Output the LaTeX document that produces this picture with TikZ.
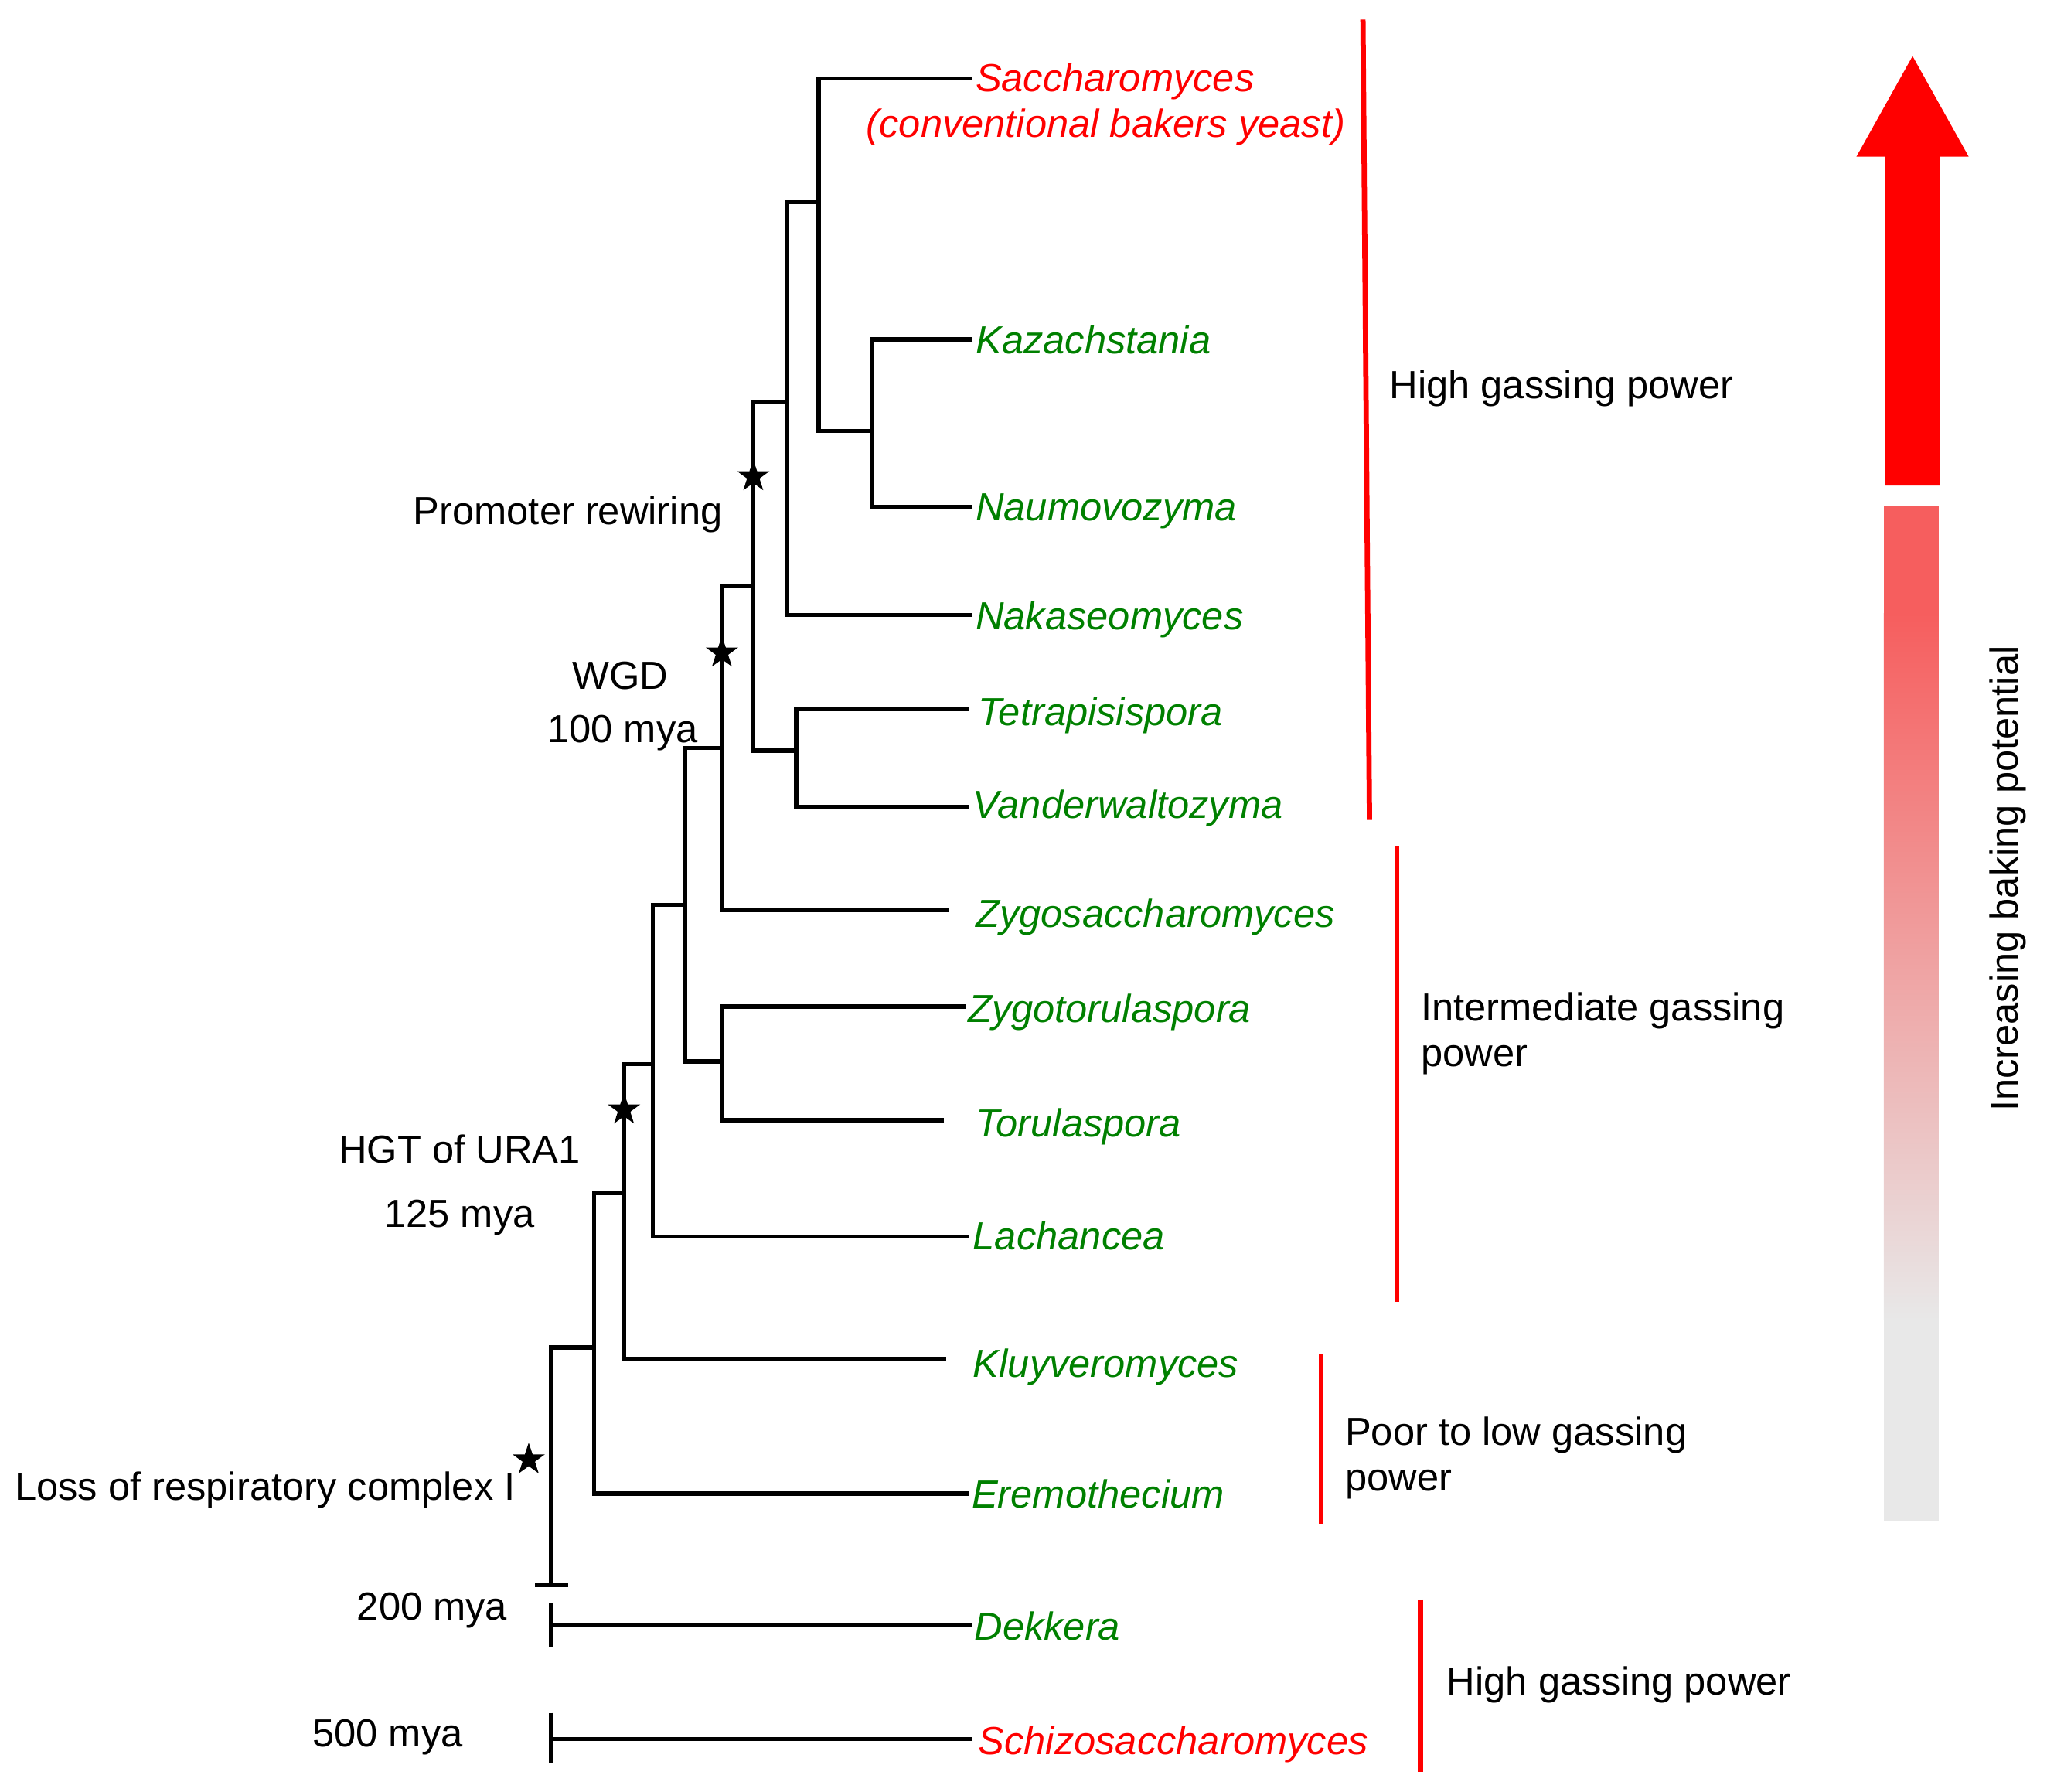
\documentclass[tikz,border=0pt]{standalone}
\usepackage{fontspec}
\setmainfont{Liberation Sans}
\usepackage{xcolor}
\usetikzlibrary{shapes.geometric}

\definecolor{taxgreen}{RGB}{0,128,0}
\definecolor{barpink}{RGB}{246,94,94}
\definecolor{bargrey}{RGB}{232,232,232}

\tikzset{
  branch/.style={line width=1.6pt},
  taxon/.style={anchor=base west, inner sep=0pt, yshift=-5.5pt,
    font=\fontsize{15}{17.5}\selectfont\itshape, text=taxgreen},
  baker/.style={taxon, text=red},
  note/.style={anchor=base, inner sep=0pt, yshift=-5.5pt,
    font=\fontsize{15}{17.5}\selectfont},
  groupnote/.style={note, anchor=base west},
  groupbar/.style={red, line width=2pt},
  event/.style={star, star points=5, star point ratio=2.6, fill=black,
    inner sep=0pt, minimum size=13pt},
}

\begin{document}
\begin{tikzpicture}[x=0.5pt, y=-0.5pt]
\useasboundingbox (0,0) rectangle (1568,1372);

% leaf ends
\node[coordinate] (sac) at (745,60) {};
\node[coordinate] (kaz) at (745,260) {};
\node[coordinate] (nau) at (745,388) {};
\node[coordinate] (nak) at (745,471) {};
\node[coordinate] (tet) at (742,543) {};
\node[coordinate] (van) at (742,618) {};
\node[coordinate] (zyg) at (727,697) {};
\node[coordinate] (zto) at (740,771) {};
\node[coordinate] (tor) at (723,858) {};
\node[coordinate] (lac) at (742,947) {};
\node[coordinate] (klu) at (725,1041) {};
\node[coordinate] (ere) at (742,1144) {};
\node[coordinate] (dek) at (745,1245) {};
\node[coordinate] (sch) at (745,1332) {};

% inner nodes
\node[coordinate] (KN) at (668,330) {};
\node[coordinate] (SKN) at (627,155) {};
\node[coordinate] (SKNN) at (603,308) {};
\node[coordinate] (TV) at (610,575) {};
\node[coordinate] (WGD) at (577,449) {};
\node[coordinate] (ZT) at (553,813) {};
\node[coordinate] (WZ) at (553,573) {};
\node[coordinate] (WZT) at (525,693) {};
\node[coordinate] (WZL) at (500,815) {};
\node[coordinate] (HGT) at (478,914) {};
\node[coordinate] (HGE) at (455,1032) {};
\node[coordinate] (root) at (422,1214) {};
\node[coordinate] (rootL) at (410,1214) {};
\node[coordinate] (rootR) at (435,1214) {};
\node[coordinate] (dek0) at (422,1245) {};
\node[coordinate] (dekT) at (422,1228) {};
\node[coordinate] (dekB) at (422,1262) {};
\node[coordinate] (sch0) at (422,1332) {};
\node[coordinate] (schT) at (422,1312) {};
\node[coordinate] (schB) at (422,1350) {};

% draw the tree
\draw[branch] (kaz) -| (KN);
\draw[branch] (nau) -| (KN);
\draw[branch] (sac) -| (SKN);
\draw[branch] (KN) -| (SKN);
\draw[branch] (nak) -| (SKNN);
\draw[branch] (SKN) -| (SKNN);
\draw[branch] (tet) -| (TV);
\draw[branch] (van) -| (TV);
\draw[branch] (SKNN) -| (WGD);
\draw[branch] (TV) -| (WGD);
\draw[branch] (WGD) -| (WZ);
\draw[branch] (zyg) -| (WZ);
\draw[branch] (zto) -| (ZT);
\draw[branch] (tor) -| (ZT);
\draw[branch] (WZ) -| (WZT);
\draw[branch] (ZT) -| (WZT);
\draw[branch] (WZT) -| (WZL);
\draw[branch] (lac) -| (WZL);
\draw[branch] (WZL) -| (HGT);
\draw[branch] (klu) -| (HGT);
\draw[branch] (HGT) -| (HGE);
\draw[branch] (ere) -| (HGE);
\draw[branch] (HGE) -| (root);
\draw[branch] (rootL) -- (rootR);
\draw[branch] (dek) -- (dek0);
\draw[branch] (dekT) -- (dekB);
\draw[branch] (sch) -- (sch0);
\draw[branch] (schT) -- (schB);

% events
\node[event] (ev1) at (577,365) {};
\node[event] (ev2) at (553,500) {};
\node[event] (ev3) at (478,850) {};
\node[event] (ev4) at (405,1118) {};

\node[note] (promoter) at (435,391) {Promoter rewiring};
\node[note] (wgd) at (475,517) {WGD};
\node[note] (wgdage) at (477,558) {100 mya};
\node[note] (hgt) at (352,880) {HGT of URA1};
\node[note] (hgtage) at (352,929) {125 mya};
\node[note] (loss) at (203,1138) {Loss of respiratory complex I};
\node[note] (age200) at (331,1230) {200 mya};
\node[note] (age500) at (297,1327) {500 mya};

% taxa
\node[anchor=north, inner sep=0pt, align=center, text=red,
  font=\fontsize{15}{17.5}\selectfont\itshape] (Tsac) at (847,48)
  {\hspace*{7pt}Saccharomyces\\(conventional bakers yeast)};
\node[taxon] (Tkaz) at (747,260) {Kazachstania};
\node[taxon] (Tnau) at (747,388) {Naumovozyma};
\node[taxon] (Tnak) at (747,471) {Nakaseomyces};
\node[taxon] (Ttet) at (749,545) {Tetrapisispora};
\node[taxon] (Tvan) at (745,616) {Vanderwaltozyma};
\node[taxon] (Tzyg) at (747,699) {Zygosaccharomyces};
\node[taxon] (Tzto) at (741,772) {Zygotorulaspora};
\node[taxon] (Ttor) at (747,860) {Torulaspora};
\node[taxon] (Tlac) at (745,946) {Lachancea};
\node[taxon] (Tklu) at (745,1044) {Kluyveromyces};
\node[taxon] (Tere) at (744,1144) {Eremothecium};
\node[taxon] (Tdek) at (746,1245) {Dekkera};
\node[baker] (Tsch) at (749,1333) {Schizosaccharomyces};

% gassing groups
\node[coordinate] (g1T) at (1044,15) {};
\node[coordinate] (g1B) at (1049,628) {};
\node[coordinate] (g2T) at (1070,648) {};
\node[coordinate] (g2B) at (1070,997) {};
\node[coordinate] (g3T) at (1012,1037) {};
\node[coordinate] (g3B) at (1012,1167) {};
\node[coordinate] (g4T) at (1088,1225) {};
\node[coordinate] (g4B) at (1088,1357) {};
\draw[groupbar] (g1T) -- (g1B);
\draw[groupbar] (g2T) -- (g2B);
\draw[groupbar] (g3T) -- (g3B);
\draw[groupbar] (g4T) -- (g4B);

\node[groupnote] (high1) at (1064,294) {High gassing power};
\node[anchor=north west, inner sep=0pt, align=left,
  font=\fontsize{15}{17.5}\selectfont] (inter) at (1088,760)
  {Intermediate gassing\\power};
\node[anchor=north west, inner sep=0pt, align=left,
  font=\fontsize{15}{17.5}\selectfont] (poor) at (1030,1085)
  {Poor to low gassing\\power};
\node[groupnote] (high2) at (1108,1287) {High gassing power};

% baking arrow
\fill[red] (1444,372) -- (1444,120) -- (1422,120) -- (1465,43)
  -- (1508,120) -- (1486,120) -- (1486,372) -- cycle;
\fill[barpink] (1443,388) rectangle (1485,471);
\shade[top color=barpink, bottom color=bargrey] (1443,470) rectangle (1485,1011);
\fill[bargrey] (1443,1010) rectangle (1485,1165);
\node[note, anchor=center, yshift=0pt, rotate=90] (baking) at (1538,662)
  {Increasing baking potential};

\end{tikzpicture}
\end{document}
